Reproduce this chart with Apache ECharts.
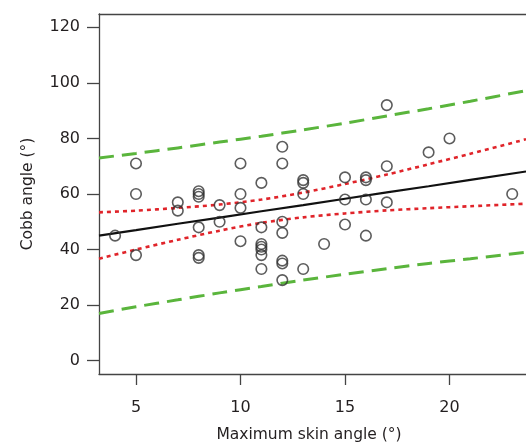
<!DOCTYPE html>
<html>
<head>
<meta charset="utf-8">
<script src="https://cdn.jsdelivr.net/npm/echarts@6/dist/echarts.min.js"></script>
<style>
html,body{margin:0;padding:0;background:#fff;}
#chart{width:526px;height:444px;}
</style>
</head>
<body>
<div id="chart"></div>
<script>
// Scatter data (Maximum skin angle, Cobb angle)
const skinAngle = [4, 5,5,5, 7,7, 8,8,8,8,8,8, 9,9, 10,10,10,10, 11,11,11,11,11,11,11, 12,12,12,12,12,12,12, 13,13,13,13, 14, 15,15,15, 16,16,16,16, 17,17,17, 19, 20, 23];
const cobbAngle  = [45, 71,60,38, 57,54, 61,60,59,48,38,37, 56,50, 71,60,55,43, 64,48,42,41,40,38,33, 77,71,50,46,36,35,29, 65,64,60,33, 42, 66,58,49, 66,65,58,45, 92,70,57, 75, 80, 60];

// Fitted line and bands read at these x positions
const bandX     = [3.23, 5, 7, 9, 11, 13, 15, 17, 19, 21, 23.66];
const fitLine   = [45.0, 47.0, 49.3, 51.5, 53.8, 56.0, 58.3, 60.6, 62.8, 65.1, 68.1];
const ciUpper   = [53.4, 54.0, 55.0, 56.2, 58.0, 60.5, 63.6, 67.0, 70.7, 74.5, 79.7];
const ciLower   = [36.7, 40.0, 43.5, 46.8, 49.6, 51.6, 53.0, 54.1, 54.9, 55.6, 56.5];
const piUpper   = [73.0, 74.6, 76.6, 78.7, 80.8, 83.1, 85.5, 88.1, 90.7, 93.4, 97.2];
const piLower   = [17.0, 19.4, 21.9, 24.4, 26.7, 29.0, 31.1, 33.1, 35.0, 36.7, 39.0];

// Axis ticks
const xTicks = [5, 10, 15, 20];
const yTicks = [0, 20, 40, 60, 80, 100, 120];

const zip = (xs, ys) => xs.map((x, i) => [x, ys[i]]);

const FONT = '"DejaVu Sans", Verdana, sans-serif';
const TXT = '#231f20';
const AXC = '#444';

const chart = echarts.init(document.getElementById('chart'), null, {renderer: 'canvas'});
chart.setOption({
  backgroundColor: '#fff',
  animation: false,
  grid: {left: 99, right: 0, top: 14, bottom: 70, containLabel: false},
  xAxis: [{
    type: 'value', min: 3.23, max: 23.66, position: 'bottom',
    axisLine: {show: true, onZero: false, lineStyle: {color: AXC, width: 1.3}},
    axisTick: {show: true, inside: false, length: 11, lineStyle: {color: AXC, width: 1.3}, customValues: xTicks},
    axisLabel: {show: true, margin: 26, fontSize: 16, color: TXT, fontFamily: FONT, customValues: xTicks},
    splitLine: {show: false}
  }, {
    type: 'value', min: 3.23, max: 23.66, position: 'top',
    axisLine: {show: true, onZero: false, lineStyle: {color: AXC, width: 1.3}},
    axisTick: {show: false}, axisLabel: {show: false}, splitLine: {show: false}
  }],
  yAxis: {
    type: 'value', min: -4.8, max: 124.8,
    axisLine: {show: true, onZero: false, lineStyle: {color: AXC, width: 1.3}},
    axisTick: {show: true, inside: false, length: 12, lineStyle: {color: AXC, width: 1.3}, customValues: yTicks},
    axisLabel: {show: true, margin: 19, fontSize: 16, color: TXT, fontFamily: FONT, customValues: yTicks},
    splitLine: {show: false}
  },
  graphic: [
    {type: 'text', x: 28, y: 194, rotation: Math.PI / 2,
     style: {text: 'Cobb angle (°)', fill: TXT, font: '15.5px ' + FONT, textAlign: 'center', textVerticalAlign: 'middle'}},
    {type: 'text', x: 309, y: 435,
     style: {text: 'Maximum skin angle (°)', fill: TXT, font: '15.5px ' + FONT, textAlign: 'center', textVerticalAlign: 'middle'}}
  ],
  series: [
    {type: 'line', data: zip(bandX, piUpper), smooth: 0.3, symbol: 'none',
     lineStyle: {color: '#5ab53c', width: 3, type: [15, 8]}, z: 2},
    {type: 'line', data: zip(bandX, piLower), smooth: 0.3, symbol: 'none',
     lineStyle: {color: '#5ab53c', width: 3, type: [15, 8]}, z: 2},
    {type: 'line', data: zip(bandX, ciUpper), smooth: 0.3, symbol: 'none',
     lineStyle: {color: '#e0242a', width: 2.6, type: [4, 4]}, z: 2},
    {type: 'line', data: zip(bandX, ciLower), smooth: 0.3, symbol: 'none',
     lineStyle: {color: '#e0242a', width: 2.6, type: [4, 4]}, z: 2},
    {type: 'line', data: zip(bandX, fitLine), symbol: 'none',
     lineStyle: {color: '#111', width: 2.2}, z: 3},
    {type: 'scatter', data: zip(skinAngle, cobbAngle), symbol: 'circle', symbolSize: 10.5,
     itemStyle: {color: 'rgba(0,0,0,0)', borderColor: '#333', borderWidth: 1.6}, z: 4}
  ]
});
</script>
</body>
</html>
